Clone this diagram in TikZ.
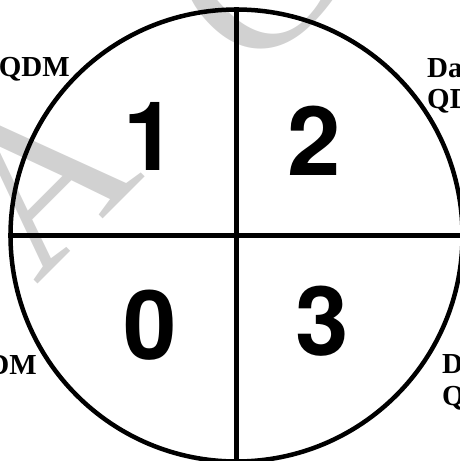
\documentclass[tikz,border=0pt]{standalone}
\usepackage{fontspec}
\setmainfont{Liberation Serif}
\newfontfamily\digitfont{TeX Gyre Heros}
\begin{document}
\begin{tikzpicture}[x=1pt,y=-1pt,
  wm/.style={text=black!18, font=\fontsize{215}{215}\selectfont, inner sep=0pt, rotate=45, anchor=base},
  quad/.style={font=\digitfont\bfseries\fontsize{96}{96}\selectfont, inner sep=0pt, anchor=base},
  lab/.style={font=\bfseries\fontsize{29}{32}\selectfont, inner sep=0pt},
  ln/.style={line width=4.5pt}]
\useasboundingbox (0,0) rectangle (460,461);
\clip (0,0) rectangle (460,461);
% watermark
\node[wm] (wa) at (91,231) {A};
\node[wm] (wc) at (304,30) {C};
% circle and axes
\coordinate (c) at (236.5,235.5);
\node[circle, draw, line width=4.5pt, minimum size=452pt, inner sep=0pt] (ring) at (c) {};
\draw[ln] (ring.north) -- (ring.south);
\draw[ln] (ring.west) -- (ring.east);
% quadrant numbers
\node[quad] (q1) at (150.5,170) {1};
\node[quad] (q2) at (314.5,175) {2};
\node[quad] (q0) at (150,359) {0};
\node[quad] (q3) at (322,355.5) {3};
% labels
\node[lab, anchor=base east] (l1) at (70,76) {QDM};
\node[lab, anchor=base west] (l2a) at (427,77) {Da};
\node[lab, anchor=base west] (l2b) at (427,108.5) {QD};
\node[lab, anchor=base east] (l0) at (37,374) {DM};
\node[lab, anchor=base west] (l3a) at (442,373) {D};
\node[lab, anchor=base west] (l3b) at (442,405) {Q};
\end{tikzpicture}
\end{document}
